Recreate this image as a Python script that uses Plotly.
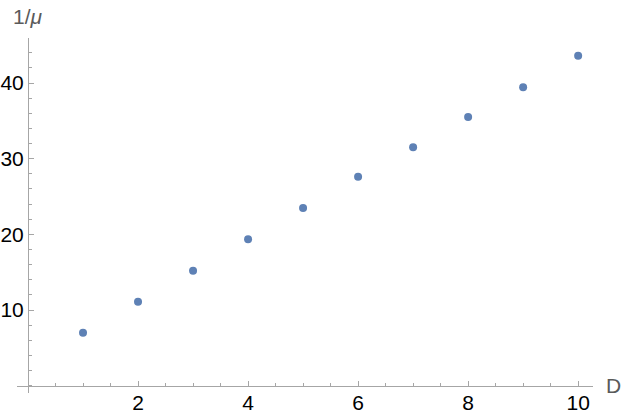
import plotly.graph_objects as go

D = [1, 2, 3, 4, 5, 6, 7, 8, 9, 10]
inv_mu = [7.0, 11.1, 15.2, 19.35, 23.5, 27.6, 31.5, 35.5, 39.45, 43.6]
x_ticks = [2, 4, 6, 8, 10]
y_ticks = [10, 20, 30, 40]

xr = [-0.2, 10.27]
yr = [-0.96, 45.95]

axis_col = "#a6a6a6"
font_fam = "Liberation Sans, Arial, sans-serif"
fs = 21

fig = go.Figure()
fig.add_trace(go.Scatter(
    x=D, y=inv_mu, mode="markers",
    marker=dict(color="#5E81B5", size=8, line=dict(width=0)),
    showlegend=False,
))

xpos = (0 - yr[0]) / (yr[1] - yr[0])
ypos = (0 - xr[0]) / (xr[1] - xr[0])

fig.update_layout(
    width=623, height=417,
    margin=dict(l=17, r=30, t=38, b=24),
    paper_bgcolor="white", plot_bgcolor="white",
    font=dict(family=font_fam, color="black", size=fs),
    xaxis=dict(
        range=xr, anchor="free", position=xpos, side="bottom",
        showgrid=False, zeroline=False, showline=True, linecolor=axis_col, linewidth=1,
        tickmode="array", tickvals=x_ticks, ticks="inside", ticklen=5,
        tickcolor=axis_col, tickwidth=1, ticklabelstandoff=-2,
        tickfont=dict(size=fs, color="black", family=font_fam),
        minor=dict(tickmode="linear", tick0=0, dtick=0.5, ticks="inside",
                   ticklen=3, tickcolor=axis_col, tickwidth=1, showgrid=False),
        automargin=False,
    ),
    yaxis=dict(
        range=yr, anchor="free", position=ypos, side="left",
        showgrid=False, zeroline=False, showline=True, linecolor=axis_col, linewidth=1,
        tickmode="array", tickvals=y_ticks, ticks="inside", ticklen=5,
        tickcolor=axis_col, tickwidth=1, ticklabelstandoff=0,
        tickfont=dict(size=fs, color="black", family=font_fam),
        minor=dict(tickmode="linear", tick0=0, dtick=2, ticks="inside",
                   ticklen=3, tickcolor=axis_col, tickwidth=1, showgrid=False),
        automargin=False,
    ),
    annotations=[
        dict(text="D", xref="paper", x=1, xanchor="left", xshift=11,
             yref="y", y=0, yanchor="middle", showarrow=False,
             font=dict(size=fs, color="#5a5a5a", family=font_fam)),
        dict(text="1/<i>μ</i>", xref="x", x=0, xanchor="center",
             yref="paper", y=1, yanchor="bottom", yshift=8, showarrow=False,
             font=dict(size=fs, color="#5a5a5a", family=font_fam)),
    ],
)

fig.write_html(
    "out.html",
    config={"displayModeBar": False},
    post_script="document.body.style.margin='0';document.body.style.overflow='hidden';",
)
